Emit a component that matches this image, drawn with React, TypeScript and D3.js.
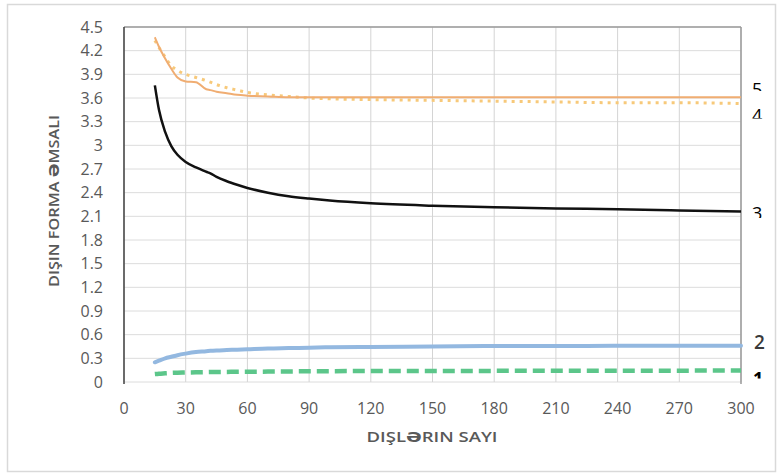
import React from "react";
import * as d3 from "d3";

const teeth = [15, 17, 20, 23, 26, 30, 35, 40, 42, 45, 50, 55, 60, 70, 80, 90, 100, 120, 150, 180, 210, 240, 270, 300];
const series5 = [4.37, 4.25, 4.1, 3.97, 3.86, 3.81, 3.8, 3.71, 3.7, 3.68, 3.66, 3.64, 3.63, 3.62, 3.61, 3.61, 3.61, 3.61, 3.61, 3.61, 3.61, 3.61, 3.61, 3.61];
const series4 = [4.33, 4.24, 4.12, 4.01, 3.95, 3.9, 3.86, 3.82, 3.8, 3.77, 3.73, 3.7, 3.67, 3.64, 3.62, 3.6, 3.59, 3.58, 3.57, 3.56, 3.55, 3.54, 3.54, 3.53];
const series3 = [3.76, 3.45, 3.17, 2.99, 2.88, 2.79, 2.72, 2.665, 2.645, 2.6, 2.545, 2.5, 2.46, 2.4, 2.355, 2.325, 2.3, 2.265, 2.235, 2.215, 2.2, 2.19, 2.175, 2.16];
const series2 = [0.25, 0.27, 0.3, 0.32, 0.34, 0.36, 0.38, 0.39, 0.395, 0.4, 0.405, 0.41, 0.415, 0.425, 0.43, 0.435, 0.44, 0.445, 0.45, 0.455, 0.455, 0.46, 0.46, 0.46];
const series1 = [0.1, 0.105, 0.11, 0.115, 0.118, 0.12, 0.123, 0.125, 0.126, 0.127, 0.128, 0.129, 0.13, 0.132, 0.134, 0.136, 0.137, 0.139, 0.14, 0.141, 0.142, 0.143, 0.144, 0.145];

const xTicks = [0, 30, 60, 90, 120, 150, 180, 210, 240, 270, 300];
const yTicks = [0, 0.3, 0.6, 0.9, 1.2, 1.5, 1.8, 2.1, 2.4, 2.7, 3, 3.3, 3.6, 3.9, 4.2, 4.5];
const xTitle = "DIŞLƏRIN SAYI";
const yTitle = "DIŞIN FORMA ƏMSALI";
const seriesLabels = ["5", "4", "3", "2", "1"];

export default function App() {
  const L = 124, R = 741, T = 27, B = 382;
  const x = d3.scaleLinear().domain([0, 300]).range([L, R]);
  const y = d3.scaleLinear().domain([0, 4.5]).range([B, T]);
  const mk = (vals: number[], curve: any) =>
    d3.line<number>().x((_, i) => x(teeth[i])).y((v) => y(v)).curve(curve)(vals) || "";

  const font = "'Open Sans', 'DejaVu Sans', sans-serif";
  const tickColor = "#595959";

  const labelSpecs = [
    { t: seriesLabels[0], base: 95.5, c0: 82, c1: 91, x: 752, fill: "#000", fs: 18, fw: 400 },
    { t: seriesLabels[1], base: 122, c0: 108.5, c1: 118.5, x: 752, fill: "#000", fs: 18, fw: 400 },
    { t: seriesLabels[2], base: 220, c0: 206, c1: 218, x: 752, fill: "#000", fs: 18, fw: 400 },
    { t: seriesLabels[3], base: 348.5, c0: 330, c1: 352, x: 754, fill: "#3a3a3a", fs: 19, fw: 600 },
    { t: seriesLabels[4], base: 384.5, c0: 371, c1: 378.5, x: 753, fill: "#000", fs: 18, fw: 700 },
  ];

  return (
    <svg width={777} height={474} style={{ position: "absolute", left: 0, top: 0, background: "#fff" }}>
      <defs>
        {labelSpecs.map((s, i) => (
          <clipPath id={`lc${i}`} key={i}>
            <rect x={745} y={s.c0} width={30} height={s.c1 - s.c0} />
          </clipPath>
        ))}
      </defs>
      <rect x={7.5} y={4.5} width={768} height={467} fill="#fff" stroke="#d9d9d9" strokeWidth={1.5} />
      {yTicks.map((t) => (
        <line key={"gy" + t} x1={L} x2={R} y1={y(t)} y2={y(t)} stroke="#dcdcdc" strokeWidth={1} />
      ))}
      {xTicks.map((t) => (
        <line key={"gx" + t} x1={x(t)} x2={x(t)} y1={T} y2={B} stroke="#d4d4d4" strokeWidth={1} />
      ))}
      <line x1={L} x2={R} y1={T} y2={T} stroke="#9a9a9a" strokeWidth={1.5} />
      <line x1={R} x2={R} y1={T} y2={B + 2} stroke="#9a9a9a" strokeWidth={1.5} />
      <line x1={L} x2={L} y1={T} y2={B + 2} stroke="#404040" strokeWidth={1.5} />
      <path d={mk(series1, d3.curveMonotoneX)} fill="none" stroke="#5cc68a" strokeWidth={4.5} strokeDasharray="12 6" />
      <path d={mk(series2, d3.curveMonotoneX)} fill="none" stroke="#93b8e0" strokeWidth={4} strokeLinecap="round" />
      <path d={mk(series3, d3.curveMonotoneX)} fill="none" stroke="#111" strokeWidth={2.5} />
      <path d={mk(series4, d3.curveMonotoneX)} fill="none" stroke="#f7c97a" strokeWidth={3} strokeDasharray="3 5" />
      <path d={mk(series5, d3.curveMonotoneX)} fill="none" stroke="#f0ad72" strokeWidth={2} />
      {yTicks.map((t) => (
        <text key={"ty" + t} x={103} y={y(t)} dy="0.35em" textAnchor="end" fontFamily={font} fontSize={16} fill={tickColor}>
          {d3.format("~g")(t)}
        </text>
      ))}
      {xTicks.map((t) => (
        <text key={"tx" + t} x={x(t)} y={414} textAnchor="middle" fontFamily={font} fontSize={16} fill={tickColor}>
          {t}
        </text>
      ))}
      <text x={432} y={442} textAnchor="middle" fontFamily={font} fontSize={14.5} fontWeight={600} fill="#595959" textLength={131} lengthAdjust="spacingAndGlyphs">
        {xTitle}
      </text>
      <text transform="translate(59,201) rotate(-90)" textAnchor="middle" fontFamily={font} fontSize={14.5} fontWeight={600} fill="#595959" textLength={172} lengthAdjust="spacingAndGlyphs">
        {yTitle}
      </text>
      {labelSpecs.map((s, i) => (
        <text key={"sl" + i} x={s.x} y={s.base} fontFamily={font} fontSize={s.fs} fontWeight={s.fw} fill={s.fill} clipPath={`url(#lc${i})`}>
          {s.t}
        </text>
      ))}
    </svg>
  );
}
